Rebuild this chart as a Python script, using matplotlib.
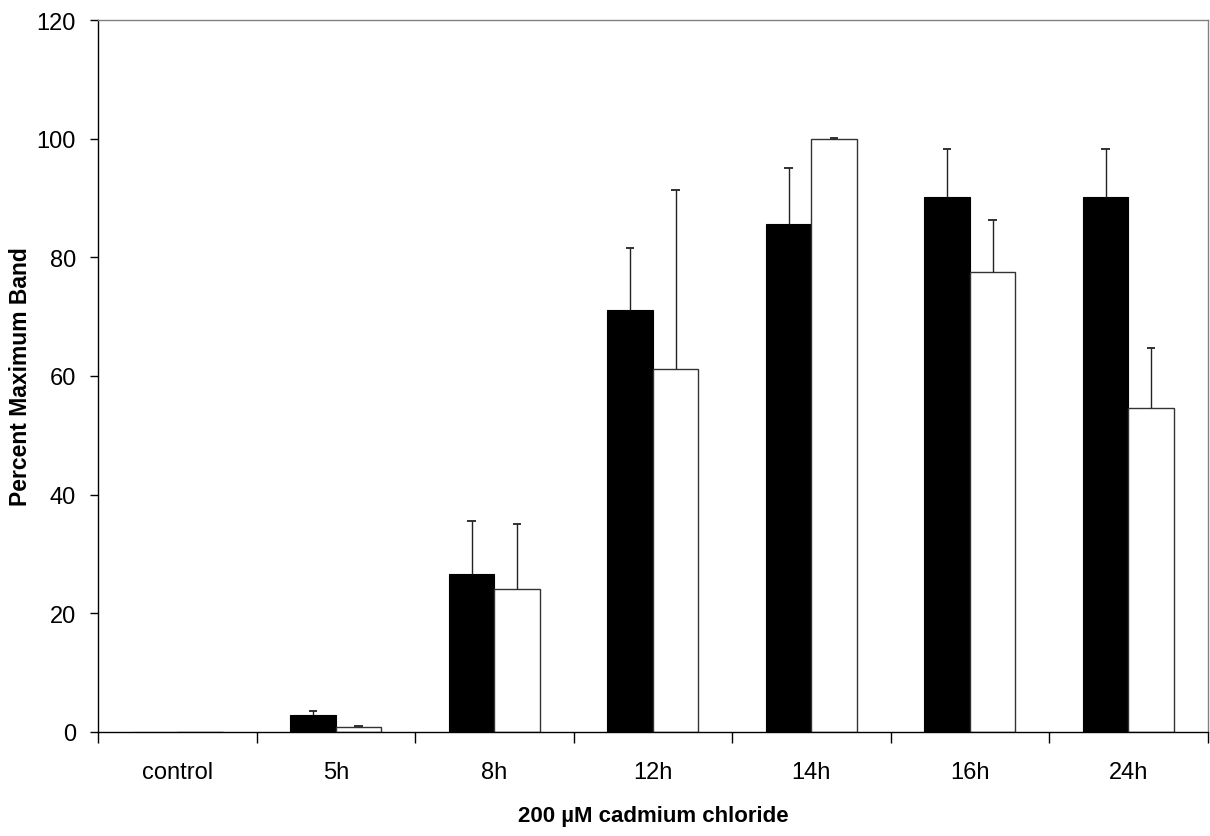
import matplotlib.pyplot as plt
import numpy as np

categories = ["control", "5h", "8h", "12h", "14h", "16h", "24h"]
black_vals = [0, 2.8, 26.7, 71.2, 85.6, 90.2, 90.2]
black_err = [0, 0.8, 8.8, 10.3, 9.5, 8.1, 8.1]
white_vals = [0, 0.8, 24.1, 61.1, 100, 77.6, 54.6]
white_err = [0, 0.2, 10.9, 30.3, 0.1, 8.7, 10.2]

plt.rcParams["font.family"] = ["Liberation Sans", "DejaVu Sans"]

fig = plt.figure(figsize=(12.1, 8.37), dpi=100)
ax = fig.add_axes([0.081, 0.1243, 0.917, 0.8506])

x = np.arange(len(categories))
w = 0.287
ax.bar(x - w / 2, black_vals, w, color="black", edgecolor="black", linewidth=0.8, zorder=2)
ax.bar(x + w / 2, white_vals, w, color="white", edgecolor="#333333", linewidth=1.0, zorder=2)

# only the upper half of each error bar, with a cap at the top
cap = 0.026
for xs, vals, errs in [(x - w / 2, black_vals, black_err), (x + w / 2, white_vals, white_err)]:
    for xi, v, e in zip(xs[1:], vals[1:], errs[1:]):
        ax.vlines(xi, v, v + e, color="#222222", linewidth=1.0, zorder=3)
        ax.hlines(v + e, xi - cap, xi + cap, color="#222222", linewidth=1.3, zorder=3)

ax.set_xlim(-0.5, len(categories) - 0.5)
ax.set_ylim(0, 120)
ax.set_yticks(range(0, 121, 20))

# boundaries get tick marks, centres get labels
ax.set_xticks(np.arange(len(categories) + 1) - 0.5)
ax.set_xticklabels([])
ax.set_xticks(x, minor=True)
ax.set_xticklabels(categories, minor=True, fontsize=17)
ax.tick_params(axis="x", which="major", length=8, width=1, direction="out")
ax.tick_params(axis="x", which="minor", length=0, pad=21)
ax.tick_params(axis="y", length=6, width=1, direction="out", labelsize=17, pad=10)

for s in ["top", "right"]:
    ax.spines[s].set_color("#808080")
    ax.spines[s].set_linewidth(1)
for s in ["left", "bottom"]:
    ax.spines[s].set_color("black")
    ax.spines[s].set_linewidth(1)

fig.text(653 / 1210, 1 - 817 / 837, "200 µM cadmium chloride", fontsize=16,
         fontweight="bold", ha="center", va="center")
fig.text(21 / 1210, 1 - 377 / 837, "Percent Maximum Band", fontsize=16.5,
         fontweight="bold", ha="center", va="center", rotation=90)

plt.savefig("out.png", dpi=100)
